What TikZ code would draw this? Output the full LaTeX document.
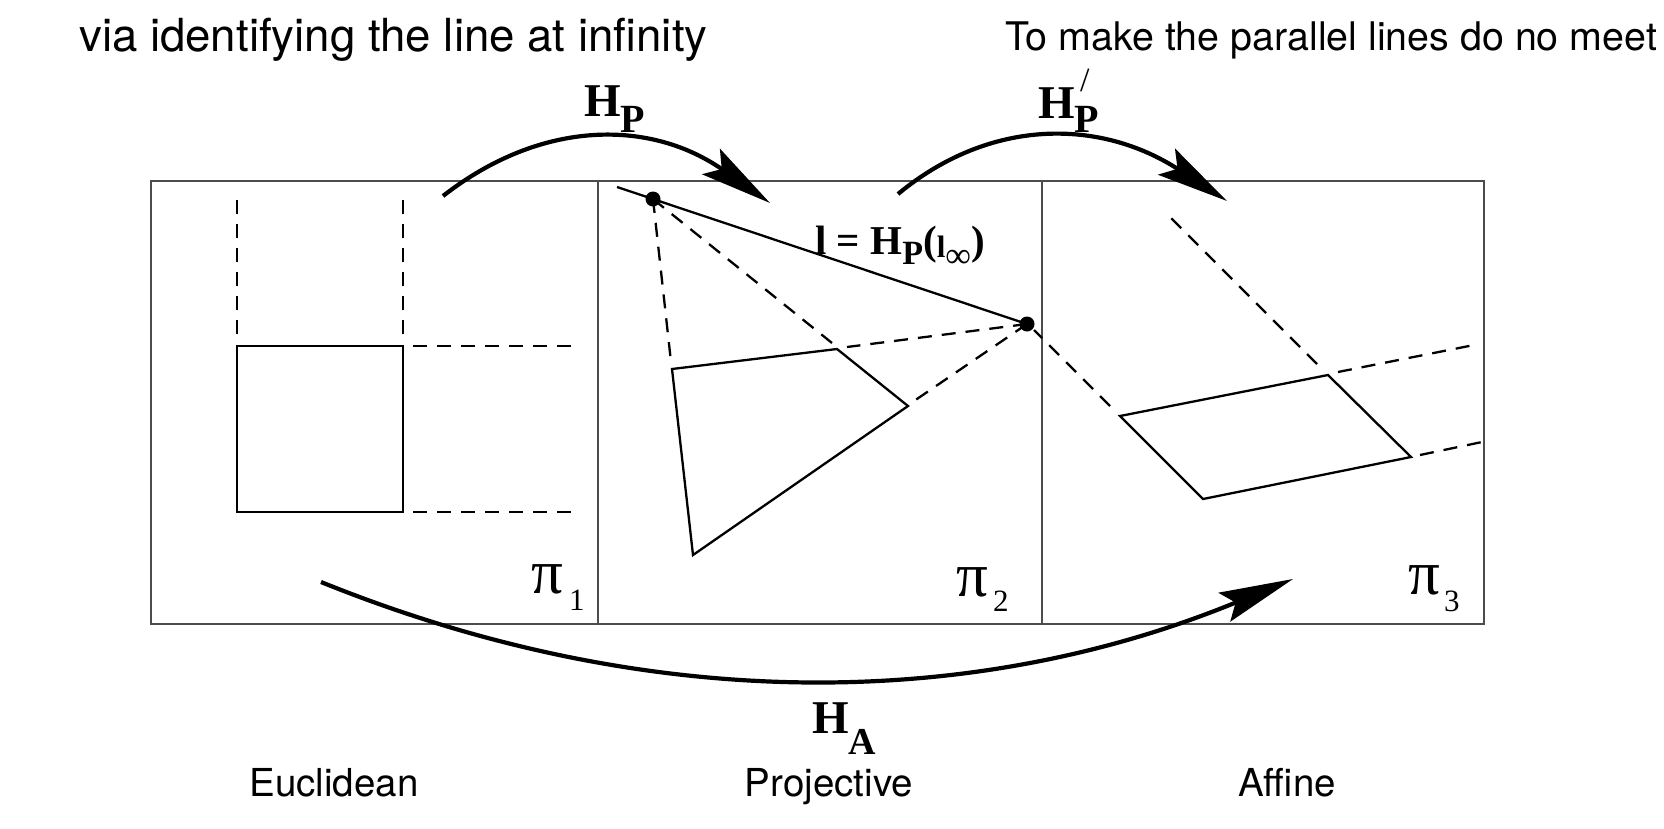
\documentclass[tikz,border=0pt]{standalone}
\usepackage{fontspec}
\setmainfont{Liberation Serif}
\newfontfamily\labfont{TeX Gyre Heros}
\usetikzlibrary{arrows.meta}
\tikzset{
  boxline/.style={draw=black!70, line width=1.5pt},
  shapeline/.style={draw=black, line width=2.3pt, line join=miter},
  dashline/.style={draw=black, line width=2.3pt, dash pattern=on 14pt off 10pt},
  maparrow/.style={draw=black, line width=4.2pt, -{Stealth[length=72pt,width=31pt,inset=13pt]}},
  txt/.style={inner sep=0pt, anchor=base west},
  captxt/.style={inner sep=0pt, anchor=base, font=\labfont\fontsize{38.5}{42}\selectfont},
}
\begin{document}
\begin{tikzpicture}[x=1pt,y=-1pt]
\useasboundingbox (0,0) rectangle (1664,828);
% frame
\draw[boxline] (151,181) rectangle (1484,624);
\draw[boxline] (598,181) -- (598,624);
\draw[boxline] (1042,181) -- (1042,624);
% Euclidean panel
\draw[shapeline] (237,346) rectangle (403,512);
\draw[dashline, line width=2.8pt] (237,200) -- (237,337);
\draw[dashline, line width=1.8pt] (403,200) -- (403,337);
\draw[dashline] (413,346) -- (572,346);
\draw[dashline] (413,512) -- (572,512);
% Projective panel
\coordinate (P1) at (653,199);
\coordinate (P2) at (1027,324);
\coordinate (qa) at (672,369);
\coordinate (qb) at (837,349);
\coordinate (qc) at (908,406);
\coordinate (qd) at (693,555);
\draw[shapeline] (617,187) -- (P2);
\draw[shapeline] (qa) -- (qb) -- (qc) -- (qd) -- cycle;
\draw[dashline] (P1) -- (671,362);
\draw[dashline] (P1) -- (832,343);
\draw[dashline] (P2) -- (847,347);
\draw[dashline] (P2) -- (914,401);
\fill (P1) circle (7.5);
\fill (P2) circle (7.5);
% Affine panel
\draw[shapeline] (1120,416) -- (1328,375) -- (1411,457) -- (1203,499) -- cycle;
\draw[dashline] (1317,364) -- (1166,213);
\draw[dashline] (1110,406) -- (1034,330);
\draw[dashline] (1338,372) -- (1474,345);
\draw[dashline] (1420,455) -- (1482,442);
% arrows
\coordinate (hp0) at (443,196);
\coordinate (hp1) at (770,203);
\coordinate (hq0) at (898,194);
\coordinate (hq1) at (1227,201);
\coordinate (ha0) at (321,582);
\coordinate (ha1) at (1293,579);
\draw[maparrow] (hp0) .. controls (543,118) and (652,120) .. (hp1);
\draw[maparrow] (hq0) .. controls (991,117) and (1101,119) .. (hq1);
\draw[maparrow, -{Stealth[length=74pt,width=31pt,inset=12pt]}] (ha0) .. controls (645,713) and (969,712) .. (ha1);
% labels
\node[txt] (lhp) at (584,116) {\fontsize{47}{50}\selectfont\bfseries H\raisebox{-16pt}{\fontsize{40}{40}\selectfont P}};
\node[txt] (lhq) at (1038,118) {\fontsize{47}{50}\selectfont\bfseries H\raisebox{-14pt}{\fontsize{40}{40}\selectfont P}\hspace{-19pt}\raisebox{27pt}{\fontsize{34}{34}\selectfont\mdseries /}};
\node[txt] (lha) at (812,733) {\fontsize{47}{50}\selectfont\bfseries H\raisebox{-21pt}{\fontsize{38}{38}\selectfont A}};
\node[txt] (lline) at (815,254) {\fontsize{41}{44}\selectfont\bfseries l = H\raisebox{-10pt}{\fontsize{34}{34}\selectfont P}(\raisebox{-3pt}{\fontsize{31}{31}\selectfont l}\raisebox{-13pt}{\fontsize{36}{36}\selectfont\mdseries ∞})};
\node[txt] (pi1) at (531,593) {\fontsize{63}{66}\selectfont π\hspace{6pt}\raisebox{-17pt}{\fontsize{31}{31}\selectfont 1}};
\node[txt] (pi2) at (956,596) {\fontsize{63}{66}\selectfont π\hspace{5pt}\raisebox{-15pt}{\fontsize{31}{31}\selectfont 2}};
\node[txt] (pi3) at (1408,594) {\fontsize{63}{66}\selectfont π\hspace{4pt}\raisebox{-17pt}{\fontsize{31}{31}\selectfont 3}};
\node[txt, font=\labfont\fontsize{45.6}{50}\selectfont] (ttl) at (79,51) {via identifying the line at infinity};
\node[txt, font=\labfont\fontsize{39.4}{42}\selectfont] (note) at (1005,50) {To make the parallel lines do no meet};
\node[captxt] (eu) at (334,796) {Euclidean};
\node[captxt] (pr) at (829,796) {Projective};
\node[captxt] (af) at (1287,796) {Affine};
\end{tikzpicture}
\end{document}
